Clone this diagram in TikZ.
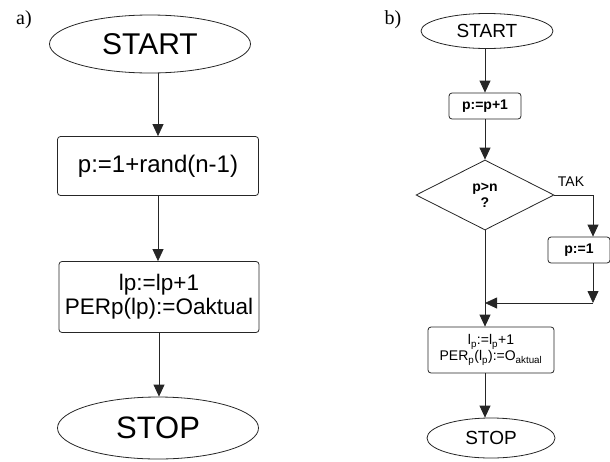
\documentclass[tikz,border=0pt]{standalone}
\usepackage{fontspec}
\setmainfont{Liberation Sans}
\newfontfamily\serifl{Liberation Serif}
\usetikzlibrary{shapes.geometric,arrows.meta}
\begin{document}
\begin{tikzpicture}[x=1pt,y=-1pt,
  line/.style={draw=black!85,line width=0.8pt},
  arr/.style={line,-{Triangle[width=11pt,length=12pt]}},
  term/.style={ellipse,line,inner sep=0pt},
  procbox/.style={rectangle,rounded corners=3pt,line,inner sep=0pt,align=center},
  decide/.style={diamond,line,inner sep=0pt,aspect=2,align=center},
  lbl/.style={font=\serifl\fontsize{20}{20}\selectfont,inner sep=0pt}]
\useasboundingbox (0,0) rectangle (610,461);
% ---- a)
\node[lbl] (la) at (24,20) {a)};
\node[term,minimum width=201pt,minimum height=58pt,font=\fontsize{30}{30}\selectfont] (sa) at (150,44) {START};
\node[procbox,minimum width=201pt,minimum height=59pt,font=\fontsize{24}{24}\selectfont] (ba) at (158,166) {p:=1+rand(n-1)};
\node[procbox,minimum width=200pt,minimum height=71pt,font=\fontsize{22.5}{24}\selectfont] (ca) at (159,297) {lp:=lp+1\\PERp(lp):=Oaktual};
\node[term,minimum width=201pt,minimum height=62pt,font=\fontsize{31}{31}\selectfont] (ea) at (158,428) {STOP};
\draw[arr] (sa.south -| ba.north) -- (ba.north);
\draw[arr] (ba.south) -- (ba.south |- ca.north);
\draw[arr] (ca.south) -- (ca.south |- ea.north);
% ---- b)
\node[lbl] (lb) at (393,20) {b)};
\node[term,minimum width=132pt,minimum height=35pt,font=\fontsize{19}{19}\selectfont] (sb) at (487,31) {START};
\node[procbox,minimum width=72pt,minimum height=26pt,font=\bfseries\fontsize{14}{14}\selectfont] (bb) at (485,106) {p:=p+1};
\node[decide,minimum width=138pt,minimum height=70pt,font=\bfseries\fontsize{14}{16}\selectfont] (db) at (485,195) {p>n\\?};
\node[procbox,minimum width=62pt,minimum height=26pt,font=\bfseries\fontsize{14}{14}\selectfont] (pb) at (579,250) {p:=1};
\node[procbox,minimum width=126pt,minimum height=46pt,font=\fontsize{14}{16}\selectfont] (cb) at (491,350) {l\textsubscript{p}:=l\textsubscript{p}+1\\PER\textsubscript{p}(l\textsubscript{p}):=O\textsubscript{aktual}};
\node[term,minimum width=128pt,minimum height=40pt,font=\fontsize{19}{19}\selectfont] (eb) at (491,438) {STOP};
\coordinate (tr) at (593,195);
\coordinate (jr) at (593,303);
\coordinate (jm) at (485,303);
\node[font=\fontsize{14}{14}\selectfont,inner sep=0pt] (tak) at (571,182) {TAK};
\draw[arr] (sb.south -| bb.north) -- (bb.north);
\draw[arr] (bb.south) -- (db.north);
\draw[line] (db.east) -- (tr);
\draw[arr] (tr) -- (tr |- pb.north);
\draw[arr] (tr |- pb.south) -- (jr);
\draw[arr] (jr) -- (jm);
\draw[arr] (db.south) -- (db.south |- cb.north);
\draw[arr] (cb.south -| db.south) -- (db.south |- eb.north);
\end{tikzpicture}
\end{document}
